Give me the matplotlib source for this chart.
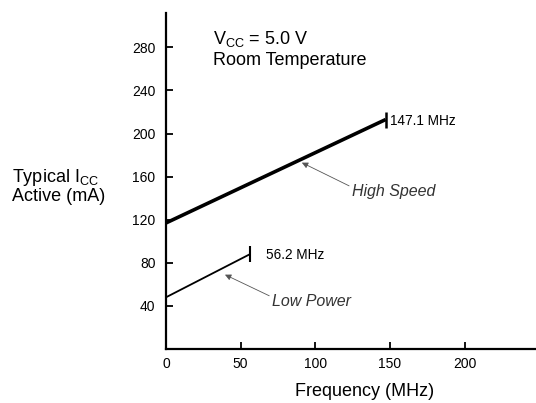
import matplotlib
matplotlib.use("Agg")
import matplotlib.pyplot as plt

plt.rcParams['font.family'] = ['Liberation Sans', 'DejaVu Sans']

# Data
hs_freq = [0, 147.1]
hs_icc = [117, 213]
lp_freq = [0, 56.2]
lp_icc = [48, 88]
x_ticks = [0, 50, 100, 150, 200]
y_ticks = [40, 80, 120, 160, 200, 240, 280]

fig = plt.figure(figsize=(5.36, 4.03), dpi=100)
ax = fig.add_axes([0.3097, 0.134, 0.688, 0.834])

ax.plot(hs_freq, hs_icc, color='black', lw=2.6, solid_capstyle='butt')
ax.plot(lp_freq, lp_icc, color='black', lw=1.3, solid_capstyle='butt')
ax.plot([hs_freq[-1]], [hs_icc[-1]], marker='|', ms=12, mew=1.8, color='black')
ax.plot([lp_freq[-1]], [lp_icc[-1]], marker='|', ms=12, mew=1.5, color='black')

ax.text(150, hs_icc[-1] - 1, '147.1 MHz', fontsize=9.8, va='center', ha='left')
ax.text(lp_freq[-1] + 11, lp_icc[-1] - 0.5, '56.2 MHz', fontsize=9.8, va='center', ha='left')

arrow = dict(arrowstyle='-|>', color='#555555', lw=0.6, mutation_scale=9)
ax.annotate('High Speed', xy=(91, 173), xytext=(124.5, 146), fontsize=11.5,
            style='italic', color='#333333', va='center', ha='left',
            arrowprops=dict(arrow, shrinkA=0, shrinkB=0, relpos=(0, 0.8)))
ax.annotate('Low Power', xy=(39.5, 69), xytext=(71, 44), fontsize=11.5,
            style='italic', color='#333333', va='center', ha='left',
            arrowprops=dict(arrow, shrinkA=0, shrinkB=0, relpos=(0, 0.8)))

ax.text(31.5, 283, r'V$_{\mathregular{CC}}$ = 5.0 V', fontsize=13, va='baseline', ha='left')
ax.text(31.5, 264, 'Room Temperature', fontsize=13, va='baseline', ha='left')

ax.set_xlim(0, 247)
ax.set_ylim(0, 312)
ax.set_xticks(x_ticks)
ax.set_yticks(y_ticks)
ax.tick_params(direction='in', length=5, width=1.3, labelsize=10)
ax.tick_params(axis='y', pad=7.5)
ax.tick_params(axis='x', pad=6)
for s in ['top', 'right']:
    ax.spines[s].set_visible(False)
for s in ['left', 'bottom']:
    ax.spines[s].set_linewidth(1.6)

fig.text(365 / 536, 1 - 396 / 403, 'Frequency (MHz)', fontsize=13, ha='center', va='baseline')
fig.text(12 / 536, 1 - 182 / 403, 'Typical I$_{\\mathregular{CC}}$', fontsize=13,
         ha='left', va='baseline')
fig.text(12 / 536, 1 - 201 / 403, 'Active (mA)', fontsize=13, ha='left', va='baseline')

fig.savefig('out.png', dpi=100)
